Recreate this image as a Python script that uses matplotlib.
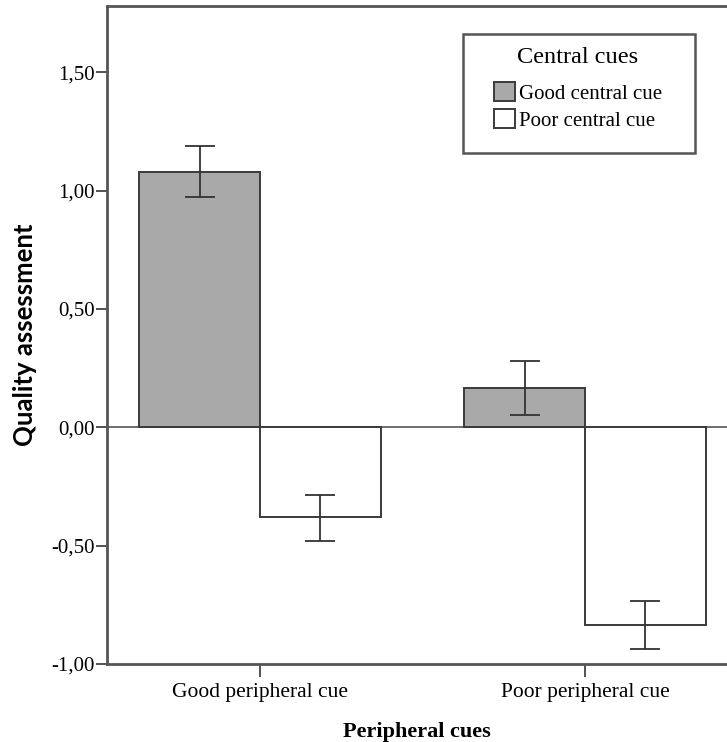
import matplotlib.pyplot as plt
from matplotlib.patches import Rectangle
import numpy as np

# data
peripheral = ["Good peripheral cue", "Poor peripheral cue"]
central = ["Good central cue", "Poor central cue"]
good_central = [1.08, 0.165]
poor_central = [-0.38, -0.835]
good_lo = [0.975, 0.05]
good_hi = [1.19, 0.28]
poor_lo = [-0.48, -0.935]
poor_hi = [-0.285, -0.735]
y_ticks = [-1.0, -0.5, 0.0, 0.5, 1.0, 1.5]

serif = "Liberation Serif"
edge = "#3a3a3a"
W, H = 727, 742

fig = plt.figure(figsize=(W / 100, H / 100), dpi=100)
ax = fig.add_axes([107 / W, 1 - 664 / H, 1 - 107 / W, (664 - 6) / H])

x = np.arange(len(peripheral))
w = 0.372

def yerr(vals, lo, hi):
    vals = np.array(vals)
    return [vals - np.array(lo), np.array(hi) - vals]

ax.bar(x - w / 2, good_central, w, color="#a9a9a9", edgecolor=edge, linewidth=1.4,
       label=central[0], zorder=2)
ax.bar(x + w / 2, poor_central, w, color="white", edgecolor=edge, linewidth=1.4,
       label=central[1], zorder=2)
ax.errorbar(x - w / 2, good_central, yerr=yerr(good_central, good_lo, good_hi), fmt="none",
            ecolor="#333333", elinewidth=1.3, capsize=11, capthick=1.3, zorder=3)
ax.errorbar(x + w / 2, poor_central, yerr=yerr(poor_central, poor_lo, poor_hi), fmt="none",
            ecolor="#333333", elinewidth=1.3, capsize=11, capthick=1.3, zorder=3)

ax.axhline(0, color="#555555", linewidth=1.2, zorder=1)

ax.set_xlim(-0.471, 1.437)
ax.set_ylim(-1.0, 1.78)
ax.set_yticks(y_ticks)
ax.set_yticklabels([f"{v:.2f}".replace(".", ",") for v in y_ticks], fontfamily=serif, fontsize=15)
ax.set_xticks(x)
ax.set_xticklabels(peripheral, fontfamily=serif, fontsize=15.5)
ax.tick_params(axis="y", length=8, width=1.3, color="#444444", pad=1)
ax.tick_params(axis="x", length=9, width=1.3, color="#444444", pad=5)

for s in ["left", "top", "bottom"]:
    ax.spines[s].set_linewidth(2)
    ax.spines[s].set_color("#555555")
ax.spines["right"].set_visible(False)

ax.set_ylabel("Quality assessment", fontfamily="Lato", fontweight="bold", fontsize=18.5, labelpad=10)
ax.set_xlabel("Peripheral cues", fontfamily=serif, fontweight="bold", fontsize=16, labelpad=14)

# legend box drawn separately so its padding matches the original
ax.add_patch(Rectangle((463 / W, 1 - 153 / H), (695 - 463) / W, (153 - 34) / H,
                       transform=fig.transFigure, facecolor="white", clip_on=False,
                       edgecolor="#555555", linewidth=1.8, zorder=5))
leg = ax.legend(title="Central cues", loc="center", bbox_to_anchor=(578 / W, 1 - 89 / H),
                bbox_transform=fig.transFigure, borderaxespad=0, borderpad=0,
                prop={"family": serif, "size": 15},
                title_fontproperties={"family": serif, "size": 17.5},
                frameon=False,
                handlelength=1.0, handleheight=1.0, handletextpad=0.2, labelspacing=0.25)
leg.set_zorder(6)
leg._legend_box.align = "center"
leg._legend_box.sep = 10

fig.savefig("out.png", dpi=100)
